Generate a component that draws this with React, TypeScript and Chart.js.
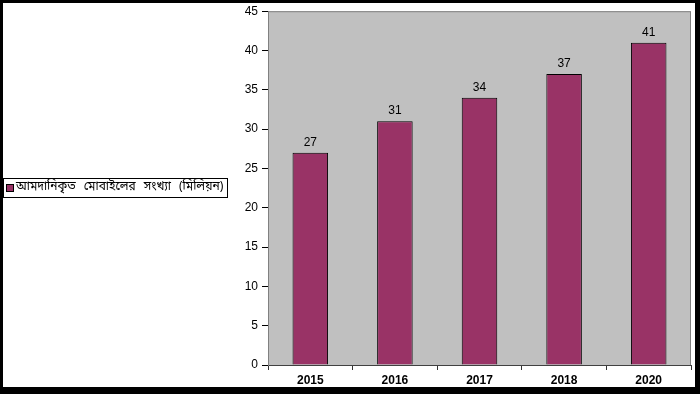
import React, { useEffect, useRef } from "react";
import { Chart, registerables } from "chart.js";

Chart.register(...registerables);

const categories = ["2015", "2016", "2017", "2018", "2020"];
const values = [27, 31, 34, 37, 41];
const seriesLabel = "আমদানিকৃত মোবাইলের সংখ্যা (মিলিয়ন)";
const yTicks = [0, 5, 10, 15, 20, 25, 30, 35, 40, 45];

const FONT = "'Liberation Sans', Arial, sans-serif";
const BAR = "#993366";

const framePlugin = {
  id: "frame",
  beforeDraw(chart: any) {
    const { ctx, chartArea: a } = chart;
    ctx.save();
    ctx.fillStyle = "#ffffff";
    ctx.fillRect(0, 0, chart.width, chart.height);
    ctx.fillStyle = "#c0c0c0";
    ctx.fillRect(a.left, a.top, a.right - a.left, a.bottom - a.top);
    ctx.strokeStyle = "#808080";
    ctx.lineWidth = 1;
    ctx.strokeRect(a.left + 0.5, a.top + 0.5, a.right - a.left - 1, a.bottom - a.top);
    ctx.restore();
  },
  afterDraw(chart: any) {
    const { ctx } = chart;
    ctx.save();
    // outer black frame
    ctx.fillStyle = "#000";
    ctx.fillRect(0, 0, chart.width, 3);
    ctx.fillRect(0, 0, 3, chart.height);
    ctx.fillRect(chart.width - 5, 0, 5, chart.height);
    ctx.fillRect(0, chart.height - 7, chart.width, 7);
    // legend box
    const lx = 3, ly = 178, lw = 225, lh = 20;
    ctx.fillStyle = "#fff";
    ctx.fillRect(lx, ly, lw, lh);
    ctx.strokeStyle = "#000";
    ctx.lineWidth = 1;
    ctx.strokeRect(lx + 0.5, ly + 0.5, lw - 1, lh - 1);
    ctx.fillStyle = BAR;
    ctx.fillRect(6, 184, 7, 7);
    ctx.strokeRect(6.5, 184.5, 7, 7);
    ctx.fillStyle = "#000";
    ctx.font = "12px 'Noto Sans Bengali', 'Noto Sans', " + FONT;
    ctx.textBaseline = "middle";
    ctx.textAlign = "left";
    try {
      (ctx as any).wordSpacing = "5px";
    } catch (e) {}
    ctx.fillText(seriesLabel, 16, 188);
    ctx.restore();
  },
  afterDatasetsDraw(chart: any) {
    const { ctx } = chart;
    const meta = chart.getDatasetMeta(0);
    ctx.save();
    ctx.fillStyle = "#000";
    ctx.font = "12px " + FONT;
    ctx.textAlign = "center";
    ctx.textBaseline = "alphabetic";
    meta.data.forEach((bar: any, i: number) => {
      ctx.fillText(String(values[i]), bar.x, bar.y - 7);
    });
    ctx.restore();
  },
};

export default function App() {
  const ref = useRef<HTMLCanvasElement | null>(null);
  useEffect(() => {
    document.body.style.margin = "0";
    if (!ref.current) return;
    const chart = new Chart(ref.current, {
      type: "bar",
      data: {
        labels: categories,
        datasets: [
          {
            label: seriesLabel,
            data: values,
            backgroundColor: BAR,
            borderColor: "#000",
            borderWidth: 1,
            categoryPercentage: 1,
            barPercentage: 0.42,
          },
        ],
      },
      options: {
        responsive: false,
        animation: false,
        layout: { padding: { left: 0, right: 9, top: 10, bottom: 0 } },
        plugins: { legend: { display: false }, tooltip: { enabled: false } },
        scales: {
          x: {
            offset: true,
            grid: {
              offset: true,
              drawOnChartArea: false,
              drawTicks: true,
              tickLength: 5,
              color: "#333",
            },
            border: { display: true, color: "#404040" },
            ticks: {
              color: "#000",
              font: { family: FONT, size: 12, weight: "bold" },
              padding: 3,
            },
            afterFit(scale: any) {
              scale.height = 29;
            },
          },
          y: {
            min: 0,
            max: 45,
            afterBuildTicks(scale: any) {
              scale.ticks = yTicks.map((v) => ({ value: v }));
            },
            grid: {
              drawOnChartArea: false,
              drawTicks: true,
              tickLength: 6,
              color: "#000",
            },
            border: { display: true, color: "#808080" },
            ticks: {
              color: "#000",
              font: { family: FONT, size: 12 },
              padding: 4,
            },
            afterFit(scale: any) {
              scale.width = 268;
            },
          },
        },
      },
      plugins: [framePlugin],
    });
    return () => chart.destroy();
  }, []);
  return <canvas ref={ref} width={700} height={394} style={{ display: "block" }} />;
}
